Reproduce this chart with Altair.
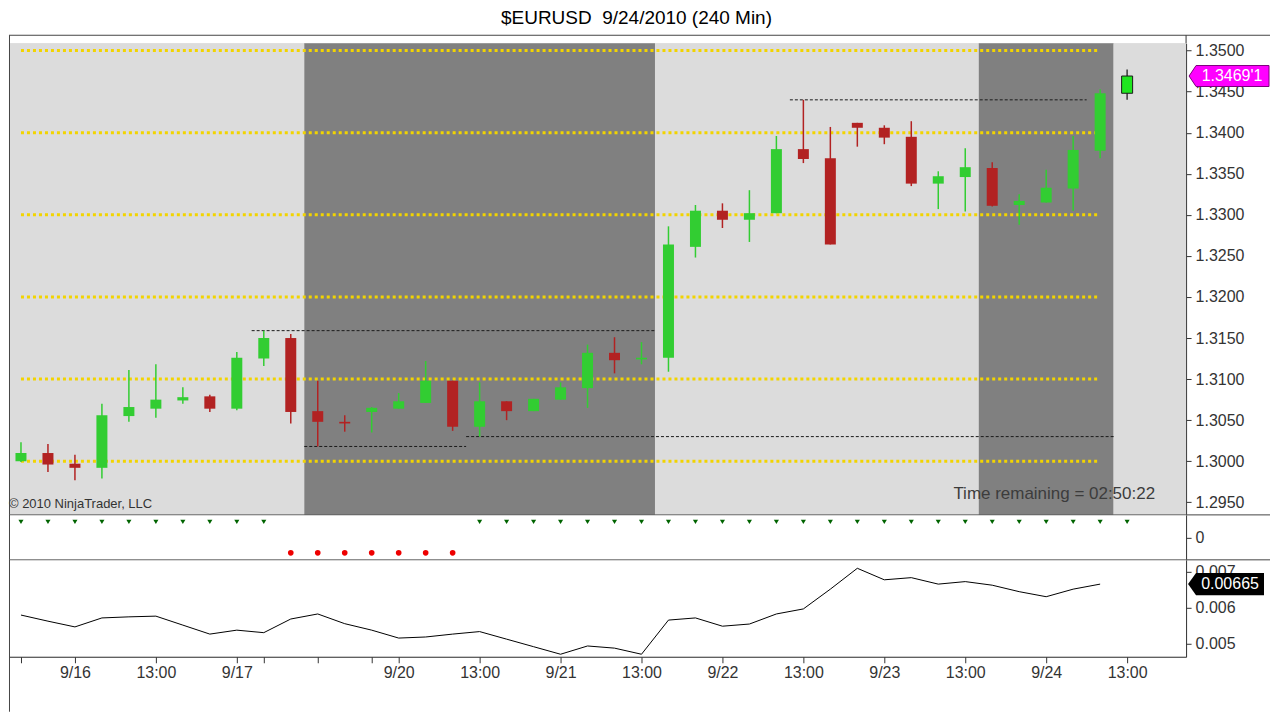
import altair as alt
import pandas as pd

TITLE = "$EURUSD \u00a09/24/2010 (240 Min)"
COPYRIGHT = "© 2010 NinjaTrader, LLC"
TIME_LEFT = "Time remaining = 02:50:22"
LAST_PRICE_LABEL = "1.3469'1"
LAST_OSC_LABEL = "0.00665"

bar_index = list(range(42))
opens = [1.3000, 1.3010, 1.2997, 1.2992, 1.3055, 1.3064, 1.3074, 1.3079, 1.3064, 1.3125,
         1.3150, 1.3061, 1.3048, 1.3060, 1.3064, 1.3071, 1.3098, 1.3042, 1.3073, 1.3061,
         1.3075, 1.3089, 1.3132, 1.3124, 1.3126, 1.3261, 1.3305, 1.3294, 1.3302, 1.3380,
         1.3369, 1.3412, 1.3406, 1.3395, 1.3338, 1.3346, 1.3357, 1.3312, 1.3315, 1.3332,
         1.3378, 1.3448]
highs = [1.3023, 1.3021, 1.3008, 1.3070, 1.3111, 1.3118, 1.3090, 1.3081, 1.3133, 1.3159,
         1.3155, 1.3098, 1.3056, 1.3066, 1.3083, 1.3122, 1.3098, 1.3096, 1.3073, 1.3076,
         1.3096, 1.3142, 1.3151, 1.3145, 1.3286, 1.3312, 1.3314, 1.3330, 1.3396, 1.3440,
         1.3407, 1.3412, 1.3409, 1.3414, 1.3353, 1.3381, 1.3364, 1.3325, 1.3355, 1.3396,
         1.3453, 1.3477]
lows = [1.2999, 1.2987, 1.2977, 1.2979, 1.3048, 1.3053, 1.3070, 1.3060, 1.3062, 1.3116,
        1.3046, 1.3018, 1.3036, 1.3035, 1.3064, 1.3071, 1.3037, 1.3030, 1.3050, 1.3061,
        1.3075, 1.3065, 1.3107, 1.3118, 1.3109, 1.3248, 1.3284, 1.3267, 1.3302, 1.3363,
        1.3264, 1.3383, 1.3386, 1.3335, 1.3307, 1.3304, 1.3310, 1.3288, 1.3315, 1.3305,
        1.3369, 1.3440]
closes = [1.3010, 1.2996, 1.2992, 1.3056, 1.3066, 1.3075, 1.3078, 1.3064, 1.3126, 1.3150,
          1.3060, 1.3048, 1.3046, 1.3065, 1.3073, 1.3098, 1.3042, 1.3073, 1.3061, 1.3076,
          1.3090, 1.3132, 1.3123, 1.3126, 1.3264, 1.3305, 1.3294, 1.3302, 1.3380, 1.3368,
          1.3264, 1.3406, 1.3394, 1.3338, 1.3347, 1.3358, 1.3311, 1.3317, 1.3333, 1.3379,
          1.3448, 1.3469]

signal = [1, 1, 1, 1, 1, 1, 1, 1, 1, 1,
          -1, -1, -1, -1, -1, -1, -1,
          1, 1, 1, 1, 1, 1, 1, 1, 1, 1, 1, 1, 1, 1, 1, 1, 1, 1, 1, 1, 1, 1, 1, 1, 1]

osc_index = list(range(41))
osc = [0.00579, 0.00562, 0.00546, 0.00571, 0.00574, 0.00576, 0.00551, 0.00526, 0.00537, 0.00530,
       0.00568, 0.00582, 0.00555, 0.00537, 0.00515, 0.00518, 0.00526, 0.00533, 0.00512, 0.00491,
       0.00470, 0.00493, 0.00487, 0.00470, 0.00565, 0.00571, 0.00548, 0.00554, 0.00582, 0.00596,
       0.00651, 0.00709, 0.00677, 0.00683, 0.00665, 0.00672, 0.00662, 0.00644, 0.00630, 0.00651,
       0.00665]

session_start = [-0.444, 10.5, 23.5, 35.5, 40.5]
session_end = [10.5, 23.5, 35.5, 40.5, 43.185]
session_kind = ["day", "night", "day", "night", "day"]

grid_levels = [1.30, 1.31, 1.32, 1.33, 1.34, 1.35]
grid_from = [0, 0, 0, 0, 0, 0]
grid_to = [39.9, 39.9, 39.9, 39.9, 39.9, 39.9]

level_prices = [1.3159, 1.3018, 1.3030, 1.3440]
level_from = [8.55, 10.5, 16.5, 28.5]
level_to = [23.5, 16.5, 40.5, 39.5]

price_ticks = [1.295, 1.300, 1.305, 1.310, 1.315, 1.320, 1.325, 1.330, 1.335, 1.340, 1.345, 1.350]
osc_ticks = [0.005, 0.006, 0.007]
time_ticks = [0, 2, 5, 8, 9, 11, 13, 14, 17, 20, 23, 26, 29, 32, 35, 38, 41]
time_labels = ["", "9/16", "13:00", "9/17", "", "", "", "9/20", "13:00", "9/21", "13:00",
               "9/22", "13:00", "9/23", "13:00", "9/24", "13:00"]

# ---------------------------------------------------------------- frames
W = 1178
H_MAIN, H_SIG, H_OSC = 472, 45, 97
FONT = "Liberation Sans"
AX = "#333333"

candles = pd.DataFrame(dict(i=bar_index, o=opens, h=highs, l=lows, c=closes))
candles["dir"] = ["up" if c >= o else "down" for o, c in zip(opens, closes)]
candles.loc[candles.index[-1], "dir"] = "live"

sessions = pd.DataFrame(dict(start=session_start, end=session_end, kind=session_kind))
grid = pd.DataFrame(dict(level=grid_levels, x0=grid_from, x1=grid_to))
levels = pd.DataFrame(dict(level=level_prices, x0=level_from, x1=level_to))
sig = pd.DataFrame(dict(i=bar_index, s=signal))
oscdf = pd.DataFrame(dict(i=osc_index, v=osc))
one = pd.DataFrame({"a": [0]})

xs = alt.Scale(domain=[-0.444, 43.185], nice=False, zero=False, padding=0)
ys = alt.Scale(domain=[1.29347, 1.35089], nice=False, zero=False, padding=0)
yo = alt.Scale(domain=[0.00463, 0.007325], nice=False, zero=False, padding=0)
ysig = alt.Scale(domain=[-1.45, 1.45], nice=False, zero=False, padding=0)


def right_axis(values, fmt):
    return alt.Axis(orient="right", values=values, format=fmt, title=None, grid=False,
                    tickSize=5, labelPadding=4, labelFontSize=16, labelColor=AX,
                    labelFont=FONT, domainColor=AX, tickColor=AX)


y_main_axis = right_axis(price_ticks, ".4f")
y_osc_axis = right_axis(osc_ticks, ".3f")
y_sig_axis = right_axis([0], "d")

label_expr = " : ".join(
    f"datum.value == {v} ? '{t}'" for v, t in zip(time_ticks, time_labels)) + " : ''"
x_axis = alt.Axis(values=time_ticks, labelExpr=label_expr, title=None, grid=False,
                  tickSize=6, labelPadding=2, labelFontSize=16, labelColor=AX,
                  labelFont=FONT, domainColor=AX, tickColor=AX,
                  labelOverlap=False, labelFlush=False)

XN = dict(scale=xs, axis=None)

# ---------------------------------------------------------------- main panel
bg = alt.Chart(sessions).mark_rect().encode(
    x=alt.X("start:Q", **XN), x2="end:Q",
    fill=alt.Fill("kind:N", scale=alt.Scale(domain=["day", "night"],
                                            range=["#dcdcdc", "#808080"]), legend=None))

ygrid = alt.Chart(grid).mark_rule(color="#f2d400", strokeWidth=3, strokeDash=[3, 3]).encode(
    x=alt.X("x0:Q", **XN), x2="x1:Q",
    y=alt.Y("level:Q", scale=ys, axis=y_main_axis))

dashed = alt.Chart(levels).mark_rule(color="#1a1a1a", strokeWidth=1, strokeDash=[3, 2]).encode(
    x=alt.X("x0:Q", **XN), x2="x1:Q",
    y=alt.Y("level:Q", scale=ys, axis=y_main_axis))

wicks = alt.Chart(candles).mark_rule(strokeWidth=1.5).encode(
    x=alt.X("i:Q", **XN),
    y=alt.Y("l:Q", scale=ys, axis=y_main_axis), y2="h:Q",
    stroke=alt.Stroke("dir:N", scale=alt.Scale(domain=["up", "down", "live"],
                                               range=["#32cd32", "#b22222", "#3a3a3a"]),
                      legend=None))

bodies = alt.Chart(candles).mark_bar(size=11, strokeWidth=1).encode(
    x=alt.X("i:Q", **XN),
    y=alt.Y("o:Q", scale=ys, axis=y_main_axis), y2="c:Q",
    color=alt.Color("dir:N", scale=alt.Scale(domain=["up", "down", "live"],
                                             range=["#32cd32", "#b22222", "#1fe61f"]),
                    legend=None),
    stroke=alt.condition("datum.dir == 'live'", alt.value("#1a1a1a"), alt.value("transparent")))

title_txt = alt.Chart(pd.DataFrame({"t": [TITLE]})).mark_text(
    fontSize=19, color="black", align="center", baseline="middle", font=FONT).encode(
    text="t:N", x=alt.value(628), y=alt.value(-25))

copy_txt = alt.Chart(pd.DataFrame({"t": [COPYRIGHT]})).mark_text(
    fontSize=13, color="#333333", align="left", baseline="middle", font=FONT).encode(
    text="t:N", x=alt.value(0), y=alt.value(461))

time_txt = alt.Chart(pd.DataFrame({"t": [TIME_LEFT]})).mark_text(
    fontSize=17, color="#3c3c3c", align="right", baseline="middle", font=FONT).encode(
    text="t:N", x=alt.value(1147), y=alt.value(451))

tag_df = pd.DataFrame({"p": [closes[-1]], "t": [LAST_PRICE_LABEL]})
tag_shape = alt.Chart(tag_df).mark_point(
    shape="M -1 0 L -0.825 -0.2625 L 1 -0.2625 L 1 0.2625 L -0.825 0.2625 Z",
    filled=True, size=6400, color="#ff00ff", stroke="#7a007a", strokeWidth=1, opacity=1).encode(
    x=alt.value(1221), y=alt.Y("p:Q", scale=ys, axis=y_main_axis))
tag_text = alt.Chart(tag_df).mark_text(
    fontSize=16, color="white", align="center", baseline="middle", font=FONT).encode(
    text="t:N", x=alt.value(1224), y=alt.Y("p:Q", scale=ys, axis=y_main_axis))

frame_top = alt.Chart(one).mark_rule(color="#444444", strokeWidth=1).encode(
    x=alt.value(0), x2=alt.value(1262), y=alt.value(-8))
frame_left = alt.Chart(one).mark_rule(color="#444444", strokeWidth=1).encode(
    x=alt.value(0.5), y=alt.value(-8), y2=alt.value(H_MAIN))
axis_ext = alt.Chart(one).mark_rule(color=AX, strokeWidth=1).encode(
    x=alt.value(W), y=alt.value(-8), y2=alt.value(0))
sep_main = alt.Chart(one).mark_rule(color="#444444", strokeWidth=1).encode(
    x=alt.value(0), x2=alt.value(1262), y=alt.value(H_MAIN))

main = alt.layer(bg, ygrid, dashed, wicks, bodies, copy_txt, time_txt, title_txt,
                 tag_shape, tag_text, frame_top, frame_left, axis_ext, sep_main).properties(
    width=W, height=H_MAIN)

# ---------------------------------------------------------------- signal panel
sig_pos = alt.Chart(sig).transform_filter("datum.s > 0").mark_point(
    shape="triangle-down", filled=True, size=26, color="#006400", opacity=1).encode(
    x=alt.X("i:Q", **XN), y=alt.Y("s:Q", scale=ysig, axis=y_sig_axis))
sig_neg = alt.Chart(sig).transform_filter("datum.s < 0").mark_point(
    shape="circle", filled=True, size=32, color="#ee0000", opacity=1).encode(
    x=alt.X("i:Q", **XN), y=alt.Y("s:Q", scale=ysig, axis=y_sig_axis))
sig_left = alt.Chart(one).mark_rule(color="#444444", strokeWidth=1).encode(
    x=alt.value(0.5), y=alt.value(0), y2=alt.value(H_SIG))
sep_sig = alt.Chart(one).mark_rule(color="#444444", strokeWidth=1).encode(
    x=alt.value(0), x2=alt.value(1262), y=alt.value(H_SIG))

sigp = alt.layer(sig_pos, sig_neg, sig_left, sep_sig).properties(width=W, height=H_SIG)

# ---------------------------------------------------------------- oscillator panel
osc_line = alt.Chart(oscdf).mark_line(color="black", strokeWidth=1).encode(
    x=alt.X("i:Q", scale=xs, axis=x_axis),
    y=alt.Y("v:Q", scale=yo, axis=y_osc_axis))

otag_df = pd.DataFrame({"v": [osc[-1]], "t": [LAST_OSC_LABEL]})
otag_shape = alt.Chart(otag_df).mark_point(
    shape="M -1 0 L -0.79 -0.29 L 1 -0.29 L 1 0.29 L -0.79 0.29 Z",
    filled=True, size=5776, color="black", opacity=1).encode(
    x=alt.value(1218), y=alt.Y("v:Q", scale=yo, axis=y_osc_axis))
otag_text = alt.Chart(otag_df).mark_text(
    fontSize=16, color="white", align="center", baseline="middle", font=FONT).encode(
    text="t:N", x=alt.value(1222), y=alt.Y("v:Q", scale=yo, axis=y_osc_axis))
osc_left = alt.Chart(one).mark_rule(color="#444444", strokeWidth=1).encode(
    x=alt.value(0.5), y=alt.value(0), y2=alt.value(H_OSC + 55))

oscp = alt.layer(osc_line, otag_shape, otag_text, osc_left).properties(width=W, height=H_OSC)

chart = alt.vconcat(main, sigp, oscp, spacing=0, bounds="flush").properties(
    padding={"left": 0, "top": 0, "right": 0, "bottom": 0}
).configure_view(stroke=None).configure(font=FONT)

chart.save("out.html", embed_options={"renderer": "svg", "actions": False})
